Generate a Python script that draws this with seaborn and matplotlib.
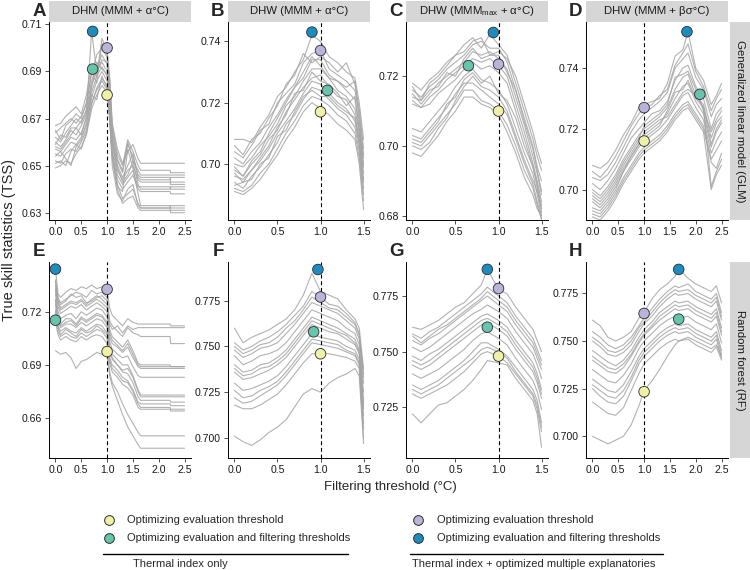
import numpy as np
import pandas as pd
import seaborn as sns
import matplotlib.pyplot as plt
from matplotlib.lines import Line2D

sns.set_theme(style="ticks")
plt.rcParams['font.family'] = ['Liberation Sans', 'DejaVu Sans']
plt.rcParams['mathtext.fontset'] = 'custom'
plt.rcParams['mathtext.rm'] = 'Liberation Sans'
plt.rcParams['mathtext.it'] = 'Liberation Sans:italic'
plt.rcParams['mathtext.bf'] = 'Liberation Sans:bold'

# ---------------- data ----------------
panel_letters = ["A", "B", "C", "D", "E", "F", "G", "H"]
col_titles = ["DHM (MMM + α°C)", "DHW (MMM + α°C)",
              "DHW (MMM$_{\\mathrm{max}}$ + α°C)", "DHW (MMM + βσ°C)"]
row_titles = ["Generalized linear model (GLM)", "Random forest (RF)"]

x_A = [0.0, 0.1, 0.2, 0.3, 0.4, 0.5, 0.6, 0.7, 0.8, 0.9, 1.0, 1.05, 1.1, 1.2, 1.3, 1.4, 1.5, 1.6, 1.65, 2.22, 2.23, 2.5]
runs_A = [
    [0.667, 0.668, 0.671, 0.673, 0.675, 0.672, 0.680, 0.693, 0.688, 0.704, 0.699, 0.688, 0.668, 0.657, 0.651, 0.656, 0.659, 0.653, 0.651, 0.651, 0.651, 0.651],
    [0.664, 0.666, 0.668, 0.670, 0.668, 0.671, 0.676, 0.689, 0.697, 0.700, 0.696, 0.684, 0.665, 0.653, 0.648, 0.660, 0.652, 0.648, 0.646, 0.646, 0.646, 0.646],
    [0.662, 0.660, 0.664, 0.667, 0.670, 0.668, 0.674, 0.686, 0.692, 0.697, 0.693, 0.680, 0.662, 0.650, 0.645, 0.650, 0.655, 0.646, 0.645, 0.645, 0.643, 0.643],
    [0.660, 0.658, 0.661, 0.665, 0.663, 0.667, 0.672, 0.684, 0.690, 0.694, 0.690, 0.678, 0.660, 0.648, 0.644, 0.648, 0.650, 0.644, 0.643, 0.643, 0.642, 0.642],
    [0.657, 0.656, 0.659, 0.662, 0.661, 0.664, 0.670, 0.681, 0.688, 0.692, 0.688, 0.676, 0.658, 0.646, 0.642, 0.645, 0.648, 0.641, 0.641, 0.641, 0.640, 0.640],
    [0.655, 0.654, 0.657, 0.660, 0.659, 0.662, 0.668, 0.679, 0.686, 0.690, 0.686, 0.674, 0.656, 0.644, 0.640, 0.643, 0.646, 0.640, 0.639, 0.639, 0.638, 0.638],
    [0.652, 0.651, 0.655, 0.657, 0.656, 0.660, 0.665, 0.676, 0.683, 0.687, 0.684, 0.672, 0.655, 0.642, 0.636, 0.638, 0.640, 0.634, 0.632, 0.632, 0.633, 0.633],
    [0.649, 0.650, 0.652, 0.651, 0.655, 0.658, 0.663, 0.674, 0.680, 0.684, 0.681, 0.670, 0.653, 0.640, 0.634, 0.636, 0.637, 0.632, 0.631, 0.631, 0.631, 0.631],
    [0.654, 0.656, 0.653, 0.650, 0.658, 0.661, 0.667, 0.680, 0.678, 0.688, 0.683, 0.671, 0.654, 0.641, 0.639, 0.657, 0.649, 0.638, 0.633, 0.633, 0.632, 0.632],
    [0.659, 0.663, 0.662, 0.666, 0.666, 0.669, 0.673, 0.707, 0.690, 0.695, 0.694, 0.682, 0.664, 0.652, 0.647, 0.659, 0.654, 0.645, 0.644, 0.644, 0.645, 0.645],
    [0.665, 0.661, 0.667, 0.669, 0.672, 0.670, 0.677, 0.690, 0.685, 0.702, 0.697, 0.686, 0.667, 0.655, 0.650, 0.661, 0.656, 0.650, 0.648, 0.648, 0.647, 0.647],
    [0.658, 0.657, 0.660, 0.663, 0.666, 0.663, 0.671, 0.683, 0.694, 0.691, 0.689, 0.677, 0.661, 0.649, 0.643, 0.646, 0.652, 0.642, 0.640, 0.640, 0.641, 0.641],
    [0.651, 0.652, 0.650, 0.656, 0.659, 0.657, 0.664, 0.677, 0.682, 0.686, 0.682, 0.669, 0.650, 0.638, 0.635, 0.640, 0.642, 0.633, 0.632, 0.632, 0.630, 0.630],
]

x_B = [0.0, 0.1, 0.2, 0.3, 0.4, 0.5, 0.6, 0.7, 0.8, 0.9, 1.0, 1.1, 1.2, 1.3, 1.4, 1.45, 1.5]
runs_B = [
    [0.708, 0.708, 0.707, 0.712, 0.716, 0.722, 0.725, 0.730, 0.734, 0.742, 0.740, 0.735, 0.733, 0.730, 0.728, 0.720, 0.708],
    [0.704, 0.702, 0.706, 0.711, 0.713, 0.720, 0.723, 0.726, 0.733, 0.736, 0.737, 0.731, 0.729, 0.727, 0.724, 0.716, 0.703],
    [0.702, 0.700, 0.704, 0.707, 0.712, 0.716, 0.721, 0.725, 0.728, 0.734, 0.734, 0.729, 0.727, 0.724, 0.721, 0.712, 0.700],
    [0.700, 0.699, 0.702, 0.706, 0.709, 0.713, 0.719, 0.722, 0.727, 0.731, 0.731, 0.728, 0.724, 0.722, 0.718, 0.710, 0.697],
    [0.698, 0.696, 0.700, 0.703, 0.708, 0.711, 0.717, 0.721, 0.725, 0.728, 0.729, 0.725, 0.722, 0.721, 0.716, 0.708, 0.695],
    [0.696, 0.695, 0.698, 0.701, 0.705, 0.710, 0.714, 0.718, 0.723, 0.727, 0.726, 0.723, 0.720, 0.718, 0.714, 0.706, 0.692],
    [0.694, 0.692, 0.696, 0.699, 0.703, 0.707, 0.713, 0.716, 0.721, 0.725, 0.724, 0.721, 0.718, 0.716, 0.712, 0.704, 0.690],
    [0.692, 0.691, 0.693, 0.697, 0.700, 0.705, 0.710, 0.714, 0.719, 0.722, 0.721, 0.719, 0.716, 0.714, 0.710, 0.702, 0.688],
    [0.691, 0.690, 0.692, 0.695, 0.699, 0.703, 0.708, 0.712, 0.717, 0.720, 0.718, 0.716, 0.713, 0.711, 0.708, 0.700, 0.685],
    [0.699, 0.696, 0.701, 0.704, 0.710, 0.715, 0.720, 0.725, 0.730, 0.735, 0.732, 0.728, 0.727, 0.725, 0.727, 0.714, 0.702],
    [0.706, 0.703, 0.708, 0.710, 0.715, 0.719, 0.726, 0.729, 0.736, 0.733, 0.735, 0.733, 0.730, 0.733, 0.726, 0.718, 0.705],
    [0.697, 0.694, 0.698, 0.702, 0.706, 0.712, 0.716, 0.723, 0.724, 0.730, 0.727, 0.726, 0.723, 0.719, 0.722, 0.711, 0.699],
    [0.693, 0.694, 0.695, 0.700, 0.702, 0.709, 0.711, 0.717, 0.722, 0.724, 0.722, 0.722, 0.719, 0.717, 0.715, 0.707, 0.694],
]

x_C = [0.0, 0.1, 0.2, 0.3, 0.4, 0.5, 0.6, 0.7, 0.8, 0.9, 1.0, 1.1, 1.2, 1.3, 1.4, 1.45, 1.5]
runs_C = [
    [0.718, 0.716, 0.719, 0.721, 0.724, 0.726, 0.729, 0.731, 0.728, 0.732, 0.729, 0.726, 0.718, 0.710, 0.702, 0.697, 0.693],
    [0.716, 0.714, 0.717, 0.719, 0.722, 0.724, 0.726, 0.729, 0.730, 0.728, 0.728, 0.724, 0.716, 0.708, 0.700, 0.694, 0.690],
    [0.715, 0.712, 0.715, 0.718, 0.720, 0.722, 0.724, 0.727, 0.726, 0.727, 0.725, 0.722, 0.714, 0.706, 0.697, 0.692, 0.686],
    [0.713, 0.711, 0.714, 0.716, 0.719, 0.721, 0.723, 0.725, 0.724, 0.725, 0.723, 0.720, 0.712, 0.704, 0.695, 0.690, 0.684],
    [0.712, 0.711, 0.712, 0.715, 0.717, 0.719, 0.722, 0.724, 0.722, 0.723, 0.721, 0.718, 0.710, 0.702, 0.694, 0.688, 0.681],
    [0.705, 0.704, 0.707, 0.710, 0.713, 0.717, 0.720, 0.722, 0.719, 0.718, 0.716, 0.712, 0.705, 0.698, 0.692, 0.686, 0.680],
    [0.703, 0.702, 0.705, 0.708, 0.711, 0.715, 0.718, 0.718, 0.716, 0.714, 0.712, 0.709, 0.702, 0.695, 0.689, 0.684, 0.679],
    [0.701, 0.700, 0.703, 0.706, 0.709, 0.712, 0.716, 0.716, 0.713, 0.712, 0.710, 0.706, 0.700, 0.693, 0.688, 0.683, 0.679],
    [0.698, 0.697, 0.700, 0.703, 0.707, 0.710, 0.714, 0.714, 0.712, 0.711, 0.709, 0.704, 0.698, 0.691, 0.686, 0.682, 0.680],
    [0.700, 0.699, 0.701, 0.705, 0.708, 0.713, 0.717, 0.720, 0.717, 0.716, 0.714, 0.710, 0.703, 0.696, 0.690, 0.687, 0.683],
    [0.717, 0.713, 0.718, 0.720, 0.723, 0.726, 0.727, 0.730, 0.731, 0.726, 0.727, 0.725, 0.720, 0.712, 0.704, 0.699, 0.695],
    [0.714, 0.713, 0.716, 0.717, 0.721, 0.720, 0.725, 0.728, 0.725, 0.726, 0.726, 0.721, 0.716, 0.707, 0.699, 0.693, 0.687],
    [0.702, 0.701, 0.704, 0.707, 0.712, 0.714, 0.719, 0.721, 0.718, 0.720, 0.715, 0.713, 0.708, 0.700, 0.694, 0.689, 0.682],
]

x_D = [0.0, 0.15, 0.3, 0.45, 0.6, 0.75, 0.9, 1.0, 1.15, 1.3, 1.45, 1.6, 1.75, 1.85, 2.0, 2.15, 2.3, 2.4, 2.5]
runs_D = [
    [0.708, 0.707, 0.709, 0.713, 0.718, 0.722, 0.727, 0.728, 0.729, 0.730, 0.735, 0.744, 0.746, 0.752, 0.740, 0.736, 0.728, 0.731, 0.735],
    [0.704, 0.703, 0.705, 0.709, 0.714, 0.719, 0.723, 0.725, 0.727, 0.729, 0.732, 0.740, 0.743, 0.745, 0.737, 0.733, 0.724, 0.728, 0.730],
    [0.702, 0.700, 0.703, 0.707, 0.712, 0.717, 0.720, 0.722, 0.725, 0.726, 0.729, 0.736, 0.740, 0.741, 0.734, 0.730, 0.720, 0.725, 0.727],
    [0.700, 0.698, 0.701, 0.705, 0.710, 0.714, 0.718, 0.720, 0.722, 0.724, 0.727, 0.733, 0.737, 0.738, 0.731, 0.728, 0.717, 0.722, 0.724],
    [0.698, 0.696, 0.699, 0.703, 0.708, 0.712, 0.716, 0.718, 0.720, 0.722, 0.725, 0.730, 0.734, 0.735, 0.729, 0.725, 0.714, 0.719, 0.722],
    [0.696, 0.694, 0.697, 0.701, 0.706, 0.710, 0.714, 0.716, 0.718, 0.720, 0.723, 0.727, 0.731, 0.732, 0.727, 0.723, 0.712, 0.716, 0.719],
    [0.693, 0.692, 0.695, 0.699, 0.704, 0.708, 0.712, 0.714, 0.716, 0.718, 0.721, 0.725, 0.728, 0.729, 0.725, 0.721, 0.710, 0.713, 0.716],
    [0.691, 0.690, 0.693, 0.697, 0.702, 0.706, 0.710, 0.712, 0.714, 0.716, 0.719, 0.723, 0.726, 0.727, 0.723, 0.719, 0.700, 0.705, 0.708],
    [0.694, 0.693, 0.696, 0.700, 0.706, 0.711, 0.715, 0.719, 0.721, 0.723, 0.724, 0.728, 0.732, 0.733, 0.731, 0.727, 0.701, 0.706, 0.710],
    [0.699, 0.697, 0.700, 0.704, 0.709, 0.713, 0.717, 0.721, 0.723, 0.725, 0.728, 0.737, 0.738, 0.739, 0.733, 0.726, 0.719, 0.723, 0.726],
    [0.706, 0.704, 0.707, 0.711, 0.716, 0.721, 0.725, 0.727, 0.728, 0.731, 0.733, 0.741, 0.745, 0.748, 0.739, 0.734, 0.726, 0.730, 0.733],
    [0.697, 0.695, 0.698, 0.702, 0.707, 0.711, 0.715, 0.717, 0.719, 0.721, 0.726, 0.732, 0.733, 0.736, 0.730, 0.727, 0.715, 0.720, 0.723],
    [0.692, 0.691, 0.694, 0.698, 0.703, 0.707, 0.711, 0.713, 0.715, 0.717, 0.720, 0.724, 0.727, 0.728, 0.724, 0.720, 0.709, 0.707, 0.712],
]

x_E = [0.0, 0.05, 0.1, 0.2, 0.3, 0.4, 0.5, 0.6, 0.7, 0.8, 0.9, 1.0, 1.05, 1.1, 1.2, 1.3, 1.4, 1.5, 1.6, 1.65, 2.22, 2.23, 2.5]
runs_E = [
    [0.744, 0.730, 0.728, 0.731, 0.733, 0.732, 0.734, 0.733, 0.735, 0.733, 0.734, 0.732, 0.722, 0.718, 0.715, 0.712, 0.716, 0.714, 0.713, 0.713, 0.713, 0.712, 0.712],
    [0.738, 0.728, 0.725, 0.727, 0.729, 0.731, 0.730, 0.728, 0.732, 0.730, 0.731, 0.728, 0.715, 0.712, 0.709, 0.706, 0.711, 0.708, 0.707, 0.706, 0.706, 0.702, 0.702],
    [0.735, 0.726, 0.722, 0.724, 0.726, 0.725, 0.727, 0.724, 0.727, 0.729, 0.727, 0.724, 0.710, 0.706, 0.703, 0.700, 0.704, 0.698, 0.691, 0.690, 0.690, 0.689, 0.689],
    [0.732, 0.723, 0.719, 0.721, 0.723, 0.722, 0.724, 0.721, 0.723, 0.725, 0.723, 0.720, 0.706, 0.702, 0.700, 0.697, 0.700, 0.694, 0.689, 0.688, 0.688, 0.688, 0.688],
    [0.730, 0.720, 0.716, 0.718, 0.719, 0.716, 0.720, 0.718, 0.720, 0.722, 0.721, 0.717, 0.703, 0.699, 0.696, 0.694, 0.695, 0.689, 0.684, 0.683, 0.683, 0.683, 0.683],
    [0.727, 0.717, 0.713, 0.716, 0.716, 0.713, 0.717, 0.715, 0.717, 0.719, 0.718, 0.714, 0.700, 0.696, 0.693, 0.690, 0.690, 0.684, 0.676, 0.673, 0.673, 0.673, 0.673],
    [0.724, 0.714, 0.711, 0.713, 0.713, 0.711, 0.714, 0.712, 0.714, 0.716, 0.715, 0.711, 0.697, 0.693, 0.690, 0.686, 0.685, 0.680, 0.672, 0.670, 0.670, 0.669, 0.669],
    [0.721, 0.712, 0.709, 0.711, 0.709, 0.708, 0.711, 0.709, 0.711, 0.713, 0.712, 0.708, 0.694, 0.690, 0.687, 0.683, 0.681, 0.676, 0.669, 0.668, 0.668, 0.667, 0.667],
    [0.718, 0.709, 0.706, 0.708, 0.706, 0.705, 0.708, 0.706, 0.708, 0.710, 0.709, 0.705, 0.691, 0.686, 0.683, 0.679, 0.677, 0.673, 0.666, 0.665, 0.665, 0.665, 0.665],
    [0.715, 0.707, 0.704, 0.706, 0.704, 0.703, 0.706, 0.704, 0.706, 0.707, 0.706, 0.702, 0.686, 0.680, 0.675, 0.668, 0.662, 0.657, 0.652, 0.650, 0.650, 0.650, 0.650],
    [0.698, 0.697, 0.696, 0.697, 0.694, 0.688, 0.692, 0.693, 0.695, 0.697, 0.696, 0.695, 0.684, 0.678, 0.670, 0.662, 0.655, 0.650, 0.645, 0.643, 0.643, 0.643, 0.643],
    [0.737, 0.727, 0.724, 0.726, 0.730, 0.728, 0.729, 0.725, 0.726, 0.728, 0.729, 0.726, 0.713, 0.710, 0.712, 0.708, 0.712, 0.710, 0.711, 0.711, 0.711, 0.711, 0.711],
    [0.733, 0.725, 0.721, 0.723, 0.725, 0.724, 0.726, 0.723, 0.725, 0.727, 0.725, 0.722, 0.708, 0.704, 0.701, 0.698, 0.702, 0.696, 0.690, 0.689, 0.689, 0.689, 0.689],
    [0.726, 0.716, 0.712, 0.714, 0.715, 0.712, 0.716, 0.714, 0.716, 0.718, 0.717, 0.713, 0.699, 0.694, 0.690, 0.687, 0.688, 0.683, 0.675, 0.672, 0.672, 0.672, 0.672],
    [0.720, 0.711, 0.707, 0.710, 0.708, 0.706, 0.710, 0.708, 0.709, 0.712, 0.710, 0.707, 0.693, 0.688, 0.685, 0.681, 0.680, 0.675, 0.668, 0.666, 0.666, 0.664, 0.664],
]

x_F = [0.0, 0.1, 0.2, 0.3, 0.4, 0.5, 0.6, 0.7, 0.8, 0.9, 1.0, 1.1, 1.2, 1.3, 1.4, 1.45, 1.5]
runs_F = [
    [0.760, 0.752, 0.755, 0.757, 0.759, 0.762, 0.765, 0.770, 0.778, 0.790, 0.780, 0.778, 0.776, 0.770, 0.765, 0.760, 0.738],
    [0.752, 0.748, 0.750, 0.753, 0.755, 0.758, 0.762, 0.767, 0.772, 0.780, 0.777, 0.773, 0.772, 0.768, 0.763, 0.757, 0.735],
    [0.748, 0.744, 0.746, 0.749, 0.750, 0.752, 0.757, 0.762, 0.768, 0.774, 0.772, 0.770, 0.768, 0.764, 0.760, 0.754, 0.730],
    [0.745, 0.740, 0.742, 0.745, 0.746, 0.748, 0.752, 0.758, 0.764, 0.770, 0.768, 0.766, 0.764, 0.760, 0.757, 0.751, 0.725],
    [0.740, 0.736, 0.737, 0.740, 0.741, 0.744, 0.748, 0.754, 0.760, 0.766, 0.764, 0.762, 0.760, 0.757, 0.754, 0.748, 0.720],
    [0.736, 0.732, 0.733, 0.735, 0.737, 0.740, 0.744, 0.750, 0.756, 0.762, 0.760, 0.758, 0.757, 0.754, 0.751, 0.746, 0.716],
    [0.730, 0.726, 0.727, 0.729, 0.731, 0.734, 0.739, 0.745, 0.751, 0.757, 0.755, 0.754, 0.753, 0.750, 0.748, 0.743, 0.712],
    [0.722, 0.719, 0.720, 0.723, 0.726, 0.729, 0.734, 0.740, 0.746, 0.752, 0.751, 0.750, 0.749, 0.747, 0.745, 0.740, 0.705],
    [0.718, 0.716, 0.716, 0.718, 0.721, 0.724, 0.729, 0.735, 0.741, 0.746, 0.746, 0.746, 0.745, 0.744, 0.742, 0.738, 0.700],
    [0.701, 0.698, 0.696, 0.699, 0.703, 0.706, 0.710, 0.717, 0.724, 0.727, 0.725, 0.730, 0.733, 0.735, 0.738, 0.734, 0.697],
    [0.750, 0.746, 0.748, 0.751, 0.752, 0.755, 0.760, 0.764, 0.770, 0.777, 0.774, 0.771, 0.770, 0.766, 0.762, 0.756, 0.733],
    [0.738, 0.734, 0.735, 0.738, 0.739, 0.742, 0.746, 0.752, 0.758, 0.764, 0.762, 0.760, 0.758, 0.756, 0.752, 0.747, 0.718],
    [0.726, 0.722, 0.723, 0.726, 0.728, 0.731, 0.736, 0.742, 0.748, 0.754, 0.753, 0.752, 0.751, 0.748, 0.746, 0.741, 0.708],
]

x_G = [0.0, 0.1, 0.2, 0.3, 0.4, 0.5, 0.6, 0.7, 0.8, 0.87, 1.0, 1.1, 1.2, 1.3, 1.4, 1.45, 1.5]
runs_G = [
    [0.761, 0.760, 0.762, 0.764, 0.767, 0.770, 0.772, 0.776, 0.780, 0.787, 0.778, 0.776, 0.770, 0.765, 0.760, 0.755, 0.750],
    [0.758, 0.756, 0.759, 0.761, 0.764, 0.767, 0.770, 0.773, 0.776, 0.779, 0.775, 0.772, 0.766, 0.761, 0.756, 0.751, 0.746],
    [0.755, 0.753, 0.756, 0.758, 0.761, 0.764, 0.767, 0.770, 0.773, 0.775, 0.771, 0.768, 0.762, 0.757, 0.752, 0.747, 0.742],
    [0.752, 0.750, 0.752, 0.755, 0.758, 0.761, 0.764, 0.767, 0.769, 0.771, 0.768, 0.765, 0.759, 0.754, 0.749, 0.744, 0.738],
    [0.748, 0.746, 0.749, 0.751, 0.754, 0.757, 0.760, 0.763, 0.766, 0.767, 0.764, 0.761, 0.755, 0.750, 0.745, 0.740, 0.733],
    [0.744, 0.742, 0.744, 0.747, 0.750, 0.753, 0.756, 0.759, 0.762, 0.763, 0.760, 0.757, 0.751, 0.746, 0.741, 0.736, 0.729],
    [0.740, 0.738, 0.740, 0.742, 0.745, 0.748, 0.751, 0.755, 0.758, 0.759, 0.756, 0.753, 0.747, 0.742, 0.737, 0.732, 0.724],
    [0.735, 0.733, 0.735, 0.737, 0.740, 0.743, 0.746, 0.750, 0.754, 0.754, 0.751, 0.748, 0.743, 0.738, 0.733, 0.728, 0.718],
    [0.731, 0.729, 0.731, 0.733, 0.735, 0.738, 0.741, 0.745, 0.749, 0.750, 0.748, 0.745, 0.740, 0.735, 0.730, 0.724, 0.714],
    [0.722, 0.718, 0.722, 0.726, 0.727, 0.730, 0.733, 0.737, 0.742, 0.746, 0.745, 0.744, 0.738, 0.733, 0.728, 0.722, 0.707],
    [0.757, 0.754, 0.757, 0.760, 0.762, 0.765, 0.768, 0.771, 0.774, 0.777, 0.773, 0.770, 0.764, 0.759, 0.754, 0.749, 0.744],
    [0.746, 0.744, 0.746, 0.749, 0.752, 0.755, 0.758, 0.761, 0.764, 0.765, 0.762, 0.759, 0.753, 0.748, 0.743, 0.738, 0.731],
    [0.733, 0.731, 0.733, 0.735, 0.738, 0.741, 0.744, 0.747, 0.751, 0.752, 0.750, 0.747, 0.741, 0.736, 0.731, 0.726, 0.716],
]

x_H = [0.0, 0.15, 0.3, 0.45, 0.6, 0.75, 0.9, 1.0, 1.15, 1.3, 1.45, 1.6, 1.67, 1.85, 2.0, 2.15, 2.3, 2.4, 2.5]
runs_H = [
    [0.761, 0.758, 0.752, 0.750, 0.752, 0.755, 0.762, 0.765, 0.772, 0.777, 0.780, 0.784, 0.788, 0.783, 0.780, 0.778, 0.776, 0.779, 0.770],
    [0.755, 0.752, 0.748, 0.746, 0.748, 0.752, 0.758, 0.762, 0.767, 0.772, 0.776, 0.779, 0.778, 0.780, 0.776, 0.774, 0.772, 0.775, 0.765],
    [0.750, 0.747, 0.743, 0.742, 0.744, 0.748, 0.755, 0.759, 0.763, 0.768, 0.772, 0.775, 0.774, 0.775, 0.772, 0.770, 0.768, 0.771, 0.761],
    [0.745, 0.742, 0.739, 0.737, 0.740, 0.745, 0.752, 0.756, 0.760, 0.765, 0.768, 0.771, 0.770, 0.771, 0.768, 0.766, 0.764, 0.767, 0.757],
    [0.740, 0.737, 0.734, 0.733, 0.736, 0.742, 0.749, 0.753, 0.757, 0.761, 0.764, 0.767, 0.766, 0.767, 0.764, 0.762, 0.760, 0.763, 0.753],
    [0.735, 0.732, 0.729, 0.728, 0.732, 0.738, 0.746, 0.750, 0.754, 0.758, 0.761, 0.763, 0.762, 0.763, 0.760, 0.758, 0.756, 0.759, 0.749],
    [0.730, 0.727, 0.724, 0.723, 0.727, 0.734, 0.742, 0.746, 0.750, 0.754, 0.757, 0.759, 0.758, 0.759, 0.756, 0.754, 0.752, 0.755, 0.745],
    [0.725, 0.721, 0.718, 0.717, 0.721, 0.729, 0.738, 0.742, 0.746, 0.750, 0.753, 0.755, 0.754, 0.755, 0.752, 0.750, 0.748, 0.751, 0.741],
    [0.718, 0.715, 0.712, 0.711, 0.715, 0.724, 0.733, 0.738, 0.742, 0.746, 0.749, 0.751, 0.750, 0.751, 0.748, 0.746, 0.744, 0.747, 0.740],
    [0.700, 0.698, 0.696, 0.698, 0.700, 0.706, 0.716, 0.724, 0.729, 0.735, 0.742, 0.748, 0.750, 0.752, 0.750, 0.748, 0.746, 0.748, 0.742],
    [0.752, 0.749, 0.745, 0.744, 0.746, 0.750, 0.757, 0.760, 0.765, 0.770, 0.774, 0.777, 0.776, 0.777, 0.774, 0.772, 0.770, 0.773, 0.763],
    [0.742, 0.739, 0.736, 0.735, 0.738, 0.743, 0.750, 0.754, 0.758, 0.763, 0.766, 0.769, 0.768, 0.769, 0.766, 0.764, 0.762, 0.765, 0.755],
    [0.727, 0.724, 0.721, 0.720, 0.724, 0.731, 0.740, 0.744, 0.748, 0.752, 0.755, 0.757, 0.756, 0.757, 0.754, 0.752, 0.750, 0.753, 0.743],
]

# optimum points per panel: [yellow, teal, purple, blue]
point_kind = ["eval_thermal", "evalfilt_thermal", "eval_multi", "evalfilt_multi"]
pts_x = {
    "A": [1.0, 0.72, 1.0, 0.72], "B": [1.0, 1.08, 1.0, 0.90],
    "C": [1.0, 0.65, 1.0, 0.94], "D": [1.0, 2.08, 1.0, 1.83],
    "E": [1.0, 0.0, 1.0, 0.0], "F": [1.0, 0.92, 1.0, 0.97],
    "G": [1.0, 0.87, 1.0, 0.87], "H": [1.0, 1.67, 1.0, 1.67],
}
pts_y = {
    "A": [0.680, 0.691, 0.700, 0.707], "B": [0.717, 0.724, 0.737, 0.743],
    "C": [0.710, 0.723, 0.7234, 0.7325], "D": [0.716, 0.7314, 0.727, 0.752],
    "E": [0.6975, 0.7152, 0.7326, 0.744], "F": [0.746, 0.758, 0.777, 0.792],
    "G": [0.748, 0.761, 0.7784, 0.787], "H": [0.7234, 0.7615, 0.7645, 0.7876],
}

y_ticks = {
    "A": [0.63, 0.65, 0.67, 0.69, 0.71], "B": [0.70, 0.72, 0.74],
    "C": [0.68, 0.70, 0.72], "D": [0.70, 0.72, 0.74],
    "E": [0.66, 0.69, 0.72], "F": [0.700, 0.725, 0.750, 0.775],
    "G": [0.725, 0.750, 0.775], "H": [0.700, 0.725, 0.750, 0.775],
}
y_fmt = {"A": "%.2f", "B": "%.2f", "C": "%.2f", "D": "%.2f",
         "E": "%.2f", "F": "%.3f", "G": "%.3f", "H": "%.3f"}
y_lims = {
    "A": (0.6269, 0.7110), "B": (0.6817, 0.7463), "C": (0.6788, 0.7355),
    "D": (0.6900, 0.7552), "E": (0.6375, 0.7480), "F": (0.6891, 0.7961),
    "G": (0.7022, 0.7903), "H": (0.6886, 0.7915),
}
x_max = {"A": 2.5, "B": 1.5, "C": 1.5, "D": 2.5, "E": 2.5, "F": 1.5, "G": 1.5, "H": 2.5}

xs = {"A": x_A, "B": x_B, "C": x_C, "D": x_D, "E": x_E, "F": x_F, "G": x_G, "H": x_H}
runs = {"A": runs_A, "B": runs_B, "C": runs_C, "D": runs_D,
        "E": runs_E, "F": runs_F, "G": runs_G, "H": runs_H}

legend_left = ["Optimizing evaluation threshold", "Optimizing evaluation and filtering thresholds"]
legend_right = ["Optimizing evaluation threshold", "Optimizing evaluation and filtering thresholds"]
legend_groups = ["Thermal index only", "Thermal index + optimized multiple explanatories"]

# ---------------- style ----------------
palette = {"eval_thermal": "#EEF2A8", "evalfilt_thermal": "#66C5AC",
           "eval_multi": "#BCB3DB", "evalfilt_multi": "#1D8CBF"}
line_gray = "#A4A4A4"
strip_gray = "#D6D6D6"

W, H = 750, 570
fig = plt.figure(figsize=(7.5, 5.7), dpi=100)

def fx(px):
    return px / W

def fy(py):
    return 1 - py / H

col_left = [49, 228, 406, 586]
col_w = 142
row_top = [22, 262]
row_bot = [220, 458]

for i, key in enumerate(panel_letters):
    r, c = divmod(i, 4)
    ax = fig.add_axes([fx(col_left[c]), fy(row_bot[r]), col_w / W, (row_bot[r] - row_top[r]) / H])
    xv = xs[key]
    rows = []
    for k, run in enumerate(runs[key]):
        for xx, yy in zip(xv, run):
            rows.append((k, xx, yy))
    df = pd.DataFrame(rows, columns=["run", "threshold", "tss"])
    sns.lineplot(data=df, x="threshold", y="tss", units="run", estimator=None,
                 sort=False, color=line_gray, lw=0.8, alpha=0.85, ax=ax, legend=False)
    ax.axvline(1.0, color="black", lw=0.8, ls=(0, (3.5, 2.5)), zorder=3)
    pdf = pd.DataFrame({"x": pts_x[key], "y": pts_y[key], "kind": point_kind})
    sns.scatterplot(data=pdf, x="x", y="y", hue="kind", palette=palette, s=58,
                    edgecolor="#2b2b2b", linewidth=0.6, ax=ax, legend=False, zorder=5)
    xm = x_max[key]
    ax.set_xlim(-0.05 * xm, xm * 1.05)
    ax.set_ylim(*y_lims[key])
    ax.set_xticks(np.arange(0, xm + 0.01, 0.5))
    ax.xaxis.set_major_formatter(plt.FormatStrFormatter("%.1f"))
    ax.set_yticks(y_ticks[key])
    ax.yaxis.set_major_formatter(plt.FormatStrFormatter(y_fmt[key]))
    ax.set_xlabel("")
    ax.set_ylabel("")
    sns.despine(ax=ax)
    for sp in ["left", "bottom"]:
        ax.spines[sp].set_linewidth(0.7)
        ax.spines[sp].set_color("black")
    ax.tick_params(axis="both", length=3, width=0.6, labelsize=7.6, pad=2,
                   color="#333333", labelcolor="#1a1a1a")
    ax.set_facecolor("white")
    fig.text(fx(col_left[c] - 10), fy(row_top[r] - 10), key, fontsize=13.5,
             fontweight="bold", ha="center", va="center")
    if r == 0:
        sax = fig.add_axes([fx(col_left[c]), fy(22), col_w / W, 21 / H])
        sax.set_facecolor(strip_gray)
        sax.set_xticks([]); sax.set_yticks([])
        for sp in sax.spines.values():
            sp.set_visible(False)
        sax.text(0.5, 0.5, col_titles[c], ha="center", va="center", fontsize=8.2,
                 color="#1a1a1a", transform=sax.transAxes)

for r in range(2):
    sax = fig.add_axes([fx(730), fy(row_bot[r]), 20 / W, (row_bot[r] - row_top[r]) / H])
    sax.set_facecolor(strip_gray)
    sax.set_xticks([]); sax.set_yticks([])
    for sp in sax.spines.values():
        sp.set_visible(False)
    sax.text(0.5, 0.5, row_titles[r], ha="center", va="center", rotation=-90,
             fontsize=8.2, color="#1a1a1a", transform=sax.transAxes)

fig.text(fx(390), fy(487), "Filtering threshold (°C)", ha="center", va="center", fontsize=9.5)
fig.text(fx(9), fy(240), "True skill statistics (TSS)", ha="center", va="center",
         rotation=90, fontsize=10.5)

keys_left = ["eval_thermal", "evalfilt_thermal"]
keys_right = ["eval_multi", "evalfilt_multi"]
for mx, tx, keys, labels in [(109, 127, keys_left, legend_left), (418, 437, keys_right, legend_right)]:
    for j, (kk, lab) in enumerate(zip(keys, labels)):
        yy = 520 + 18 * j
        fig.add_artist(Line2D([fx(mx)], [fy(yy)], marker="o", markersize=7,
                              markerfacecolor=palette[kk], markeredgecolor="#2b2b2b",
                              markeredgewidth=0.7, linestyle="none",
                              transform=fig.transFigure))
        fig.text(fx(tx), fy(yy), lab, ha="left", va="center", fontsize=8)

fig.add_artist(Line2D([fx(103), fx(348)], [fy(554), fy(554)], color="black", lw=1.0,
                      transform=fig.transFigure))
fig.add_artist(Line2D([fx(410), fx(663)], [fy(554), fy(554)], color="black", lw=1.0,
                      transform=fig.transFigure))
fig.text(fx(180), fy(564), legend_groups[0], ha="center", va="center", fontsize=8)
fig.text(fx(534), fy(564), legend_groups[1], ha="center", va="center", fontsize=8)

fig.savefig("out.png", dpi=100, facecolor="white")
